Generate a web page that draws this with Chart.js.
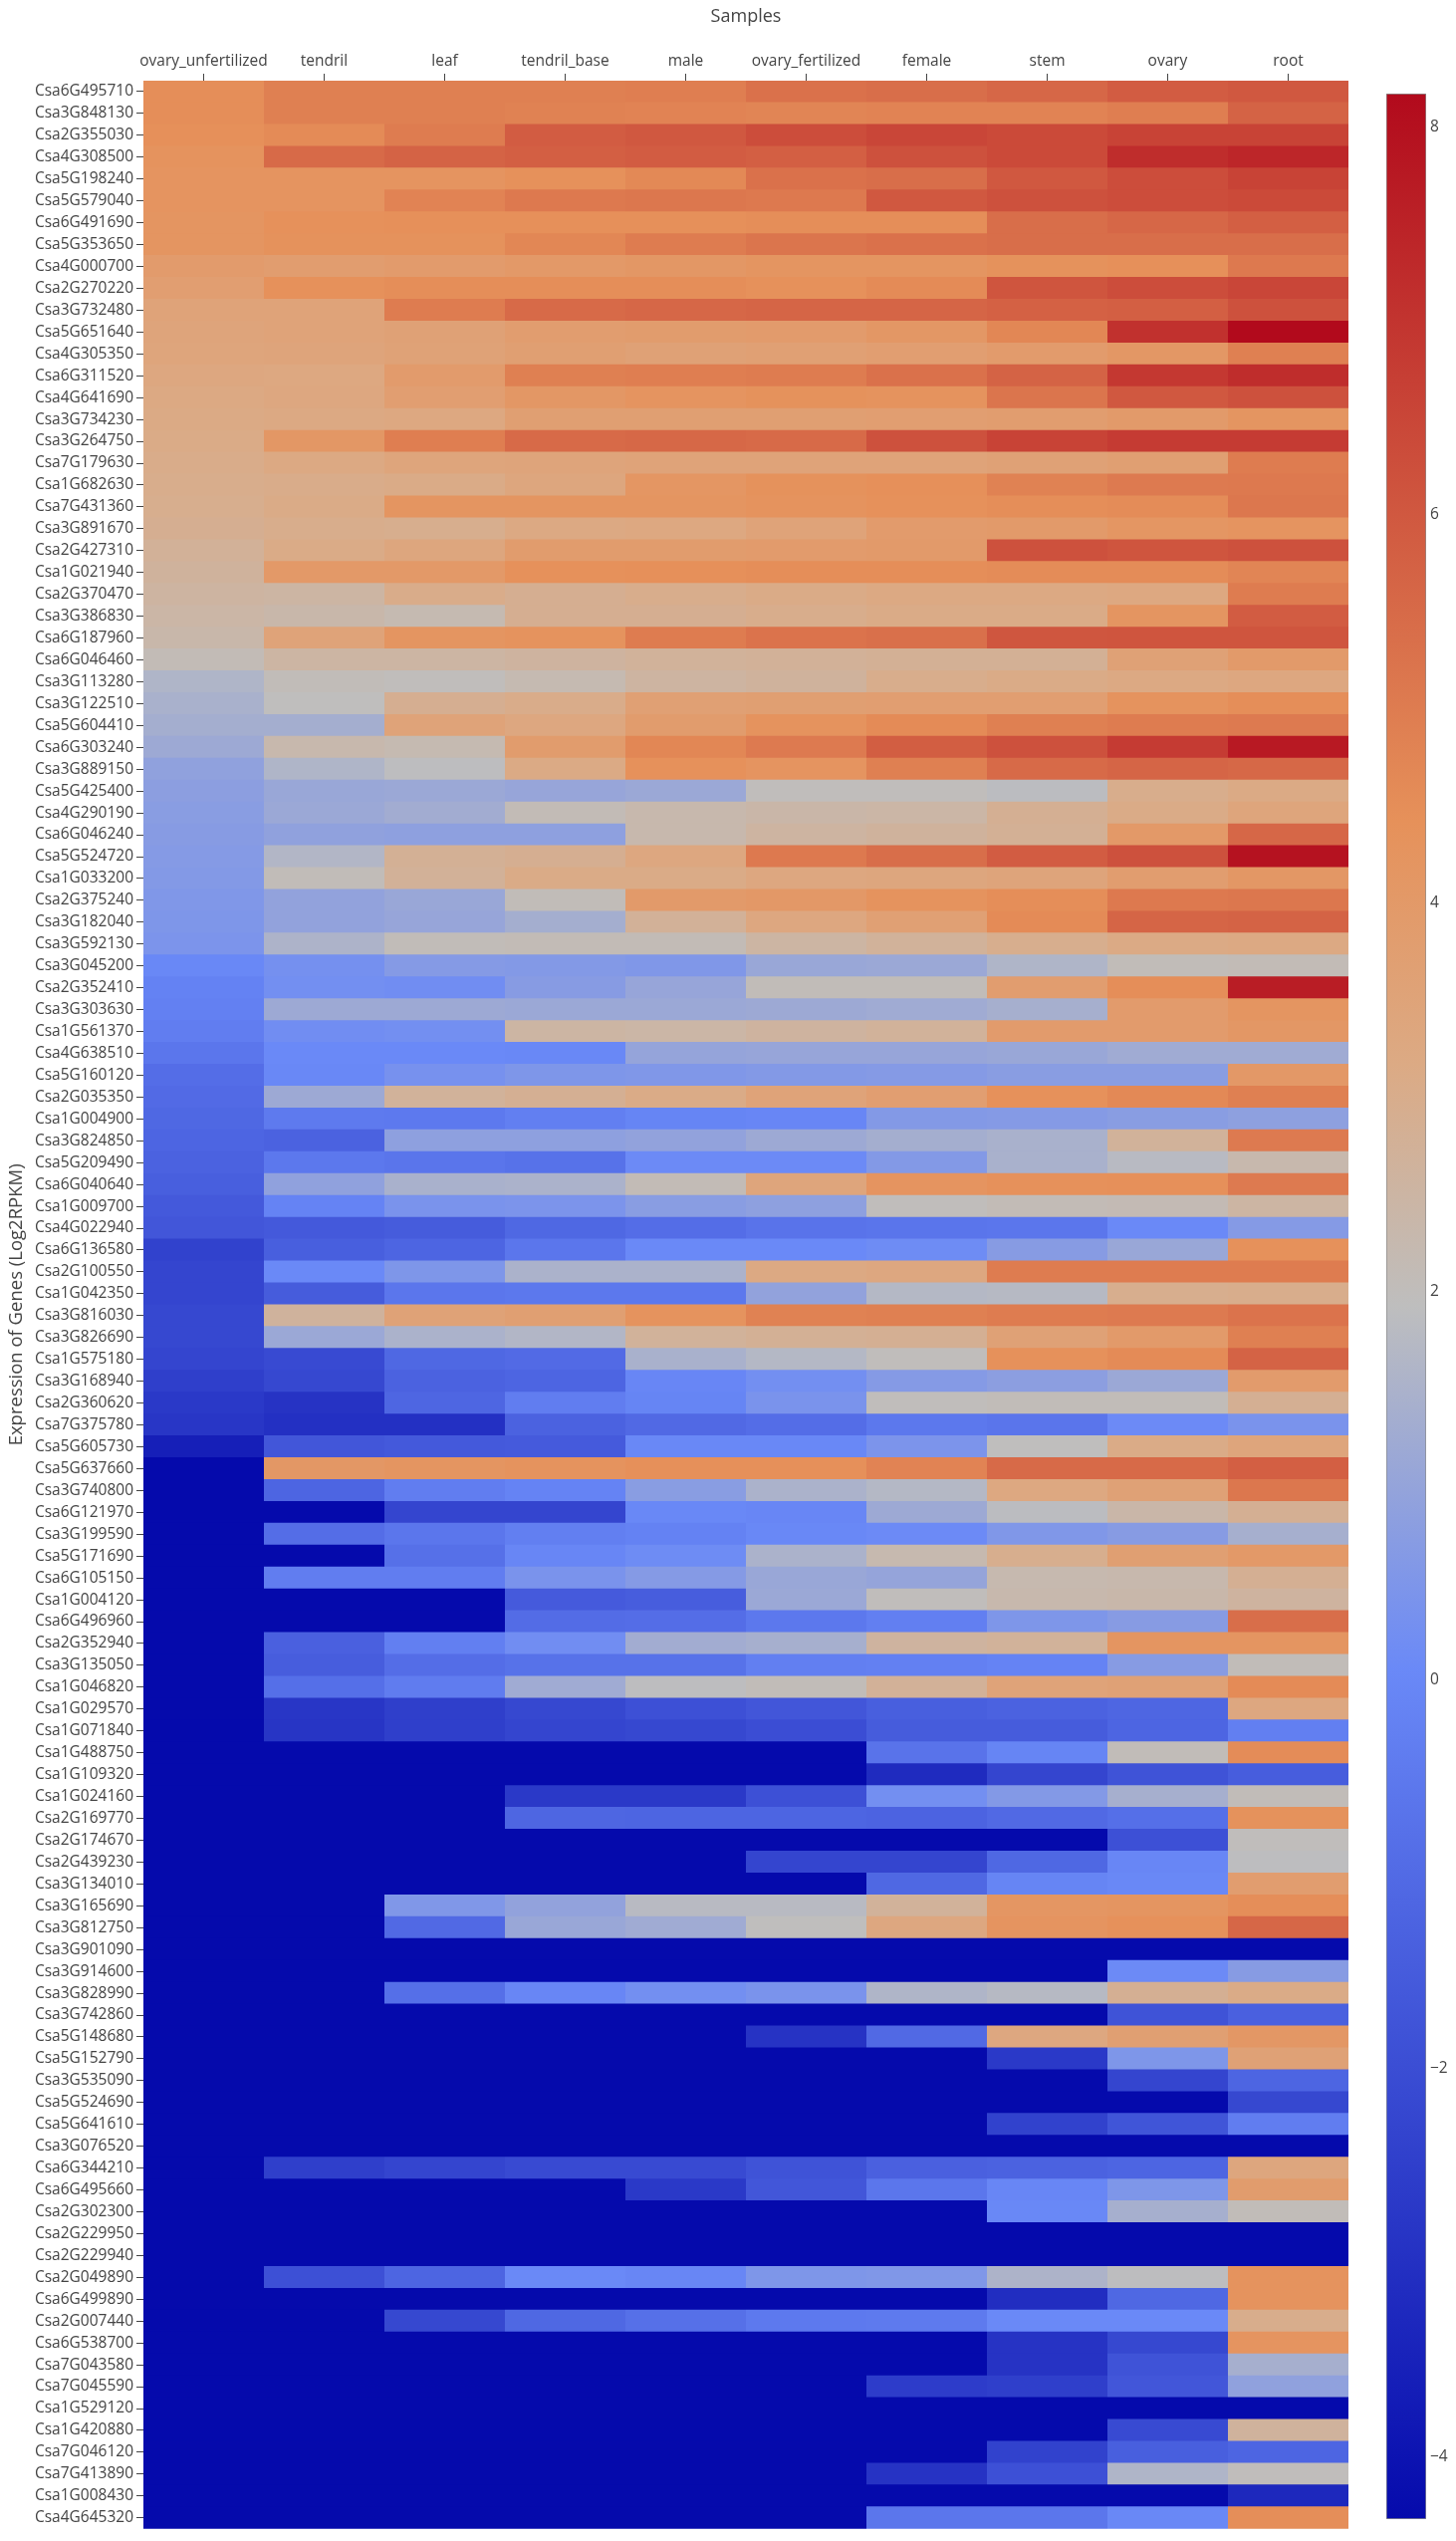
<!DOCTYPE html>
<html>
<head>
<meta charset="utf-8">
<title>Expression heatmap</title>
<script src="https://cdn.jsdelivr.net/npm/chart.js@4"></script>
<style>
    html, body { margin: 0; padding: 0; background: #fff; }
    #wrap { position: relative; width: 1462px; height: 2551px; overflow: hidden; }
    canvas { position: absolute; top: 0; }
    #heat { left: 0; }
    #bar { left: 1380px; }
</style>
</head>
<body>
<div id="wrap">
    <canvas id="heat" width="1462" height="2551"></canvas>
    <canvas id="bar" width="82" height="2551"></canvas>
</div>
<script>
const samples = ["ovary_unfertilized", "tendril", "leaf", "tendril_base", "male", "ovary_fertilized", "female", "stem", "ovary", "root"];

const genes = [
    "Csa6G495710", "Csa3G848130", "Csa2G355030", "Csa4G308500", "Csa5G198240", "Csa5G579040", "Csa6G491690", "Csa5G353650",
    "Csa4G000700", "Csa2G270220", "Csa3G732480", "Csa5G651640", "Csa4G305350", "Csa6G311520", "Csa4G641690", "Csa3G734230",
    "Csa3G264750", "Csa7G179630", "Csa1G682630", "Csa7G431360", "Csa3G891670", "Csa2G427310", "Csa1G021940", "Csa2G370470",
    "Csa3G386830", "Csa6G187960", "Csa6G046460", "Csa3G113280", "Csa3G122510", "Csa5G604410", "Csa6G303240", "Csa3G889150",
    "Csa5G425400", "Csa4G290190", "Csa6G046240", "Csa5G524720", "Csa1G033200", "Csa2G375240", "Csa3G182040", "Csa3G592130",
    "Csa3G045200", "Csa2G352410", "Csa3G303630", "Csa1G561370", "Csa4G638510", "Csa5G160120", "Csa2G035350", "Csa1G004900",
    "Csa3G824850", "Csa5G209490", "Csa6G040640", "Csa1G009700", "Csa4G022940", "Csa6G136580", "Csa2G100550", "Csa1G042350",
    "Csa3G816030", "Csa3G826690", "Csa1G575180", "Csa3G168940", "Csa2G360620", "Csa7G375780", "Csa5G605730", "Csa5G637660",
    "Csa3G740800", "Csa6G121970", "Csa3G199590", "Csa5G171690", "Csa6G105150", "Csa1G004120", "Csa6G496960", "Csa2G352940",
    "Csa3G135050", "Csa1G046820", "Csa1G029570", "Csa1G071840", "Csa1G488750", "Csa1G109320", "Csa1G024160", "Csa2G169770",
    "Csa2G174670", "Csa2G439230", "Csa3G134010", "Csa3G165690", "Csa3G812750", "Csa3G901090", "Csa3G914600", "Csa3G828990",
    "Csa3G742860", "Csa5G148680", "Csa5G152790", "Csa3G535090", "Csa5G524690", "Csa5G641610", "Csa3G076520", "Csa6G344210",
    "Csa6G495660", "Csa2G302300", "Csa2G229950", "Csa2G229940", "Csa2G049890", "Csa6G499890", "Csa2G007440", "Csa6G538700",
    "Csa7G043580", "Csa7G045590", "Csa1G529120", "Csa1G420880", "Csa7G046120", "Csa7G413890", "Csa1G008430", "Csa4G645320"
];

// log2 RPKM, one row per gene, same order as samples
const expression = [
    [4.5, 4.9, 4.9, 4.9, 4.95, 5.3, 5.4, 5.6, 5.9, 6.0],
    [4.5, 4.9, 4.9, 4.85, 4.8, 4.75, 4.8, 4.8, 4.95, 5.7],
    [4.45, 4.6, 5.0, 5.9, 6.0, 6.3, 6.5, 6.4, 6.6, 6.6],
    [4.3, 5.5, 5.7, 5.8, 5.9, 5.8, 6.2, 6.4, 7.2, 7.4],
    [4.25, 4.25, 4.25, 4.4, 4.65, 5.3, 5.4, 6.0, 6.3, 6.6],
    [4.25, 4.25, 4.8, 5.1, 5.15, 5.1, 6.0, 6.2, 6.3, 6.4],
    [4.2, 4.4, 4.45, 4.45, 4.45, 4.5, 4.5, 5.4, 5.6, 5.8],
    [4.2, 4.35, 4.35, 4.7, 5.0, 5.2, 5.3, 5.4, 5.4, 5.4],
    [3.9, 3.8, 3.9, 4.0, 4.1, 4.2, 4.2, 4.35, 4.45, 5.1],
    [3.75, 4.4, 4.5, 4.5, 4.5, 4.4, 4.6, 6.1, 6.3, 6.5],
    [3.5, 3.5, 5.0, 5.5, 5.6, 5.65, 5.65, 5.75, 5.8, 6.2],
    [3.45, 3.5, 3.6, 3.8, 3.85, 3.9, 4.1, 4.7, 7.1, 8.17],
    [3.4, 3.45, 3.55, 3.7, 3.6, 3.65, 3.75, 3.9, 4.1, 4.9],
    [3.3, 3.25, 3.9, 4.9, 4.95, 5.0, 5.3, 5.7, 6.9, 7.2],
    [3.2, 3.3, 3.75, 4.1, 4.25, 4.35, 4.3, 5.2, 6.0, 6.2],
    [3.15, 3.2, 3.25, 3.7, 3.7, 3.7, 3.75, 3.8, 3.95, 4.2],
    [3.1, 4.1, 4.95, 5.5, 5.55, 5.5, 6.2, 6.6, 6.8, 6.8],
    [3.05, 3.2, 3.4, 3.45, 3.5, 3.5, 3.5, 3.6, 3.7, 5.0],
    [3.0, 3.05, 3.1, 3.35, 4.15, 4.35, 4.45, 4.85, 5.05, 5.1],
    [2.95, 3.1, 4.2, 4.2, 4.2, 4.3, 4.4, 4.5, 4.55, 5.15],
    [2.9, 3.0, 2.95, 3.2, 3.25, 3.5, 3.9, 3.95, 4.15, 4.25],
    [2.75, 3.1, 3.35, 3.85, 3.85, 3.9, 3.95, 6.2, 6.1, 6.2],
    [2.65, 4.0, 4.0, 4.4, 4.45, 4.5, 4.5, 4.55, 4.55, 4.75],
    [2.55, 2.5, 3.05, 2.9, 3.0, 3.1, 3.2, 3.2, 3.25, 5.0],
    [2.45, 2.35, 2.2, 2.9, 2.9, 3.0, 3.1, 3.1, 4.2, 5.9],
    [2.35, 3.5, 4.2, 4.3, 5.0, 5.25, 5.35, 6.05, 6.1, 6.1],
    [2.1, 2.5, 2.5, 2.6, 2.7, 2.75, 2.8, 2.8, 3.6, 3.95],
    [1.6, 2.05, 2.0, 2.2, 2.55, 2.65, 3.0, 3.1, 3.2, 3.3],
    [1.45, 1.95, 2.9, 3.05, 3.65, 3.7, 3.75, 3.75, 4.3, 4.5],
    [1.35, 1.35, 3.5, 3.3, 3.85, 4.3, 4.6, 4.9, 5.0, 5.05],
    [1.2, 2.3, 2.2, 3.85, 4.7, 5.05, 5.85, 6.2, 6.8, 7.75],
    [0.9, 1.6, 1.9, 3.15, 4.4, 4.25, 4.9, 5.5, 5.65, 5.55],
    [0.8, 1.1, 1.15, 1.05, 1.15, 2.0, 2.0, 1.85, 3.0, 3.15],
    [0.75, 1.15, 1.3, 2.1, 2.3, 2.4, 2.45, 2.85, 3.1, 3.4],
    [0.7, 0.9, 0.85, 0.85, 2.3, 2.55, 2.65, 2.8, 4.0, 5.6],
    [0.65, 1.65, 2.8, 2.9, 3.3, 5.1, 5.4, 5.9, 6.2, 7.95],
    [0.6, 2.05, 2.75, 3.1, 3.1, 3.3, 3.35, 3.45, 3.8, 4.1],
    [0.55, 0.95, 1.1, 2.05, 3.95, 4.05, 4.3, 4.5, 5.1, 5.15],
    [0.5, 0.95, 1.05, 1.35, 2.75, 3.3, 3.65, 4.6, 5.65, 5.7],
    [0.45, 1.55, 2.05, 2.1, 2.1, 2.5, 2.7, 2.95, 3.15, 3.2],
    [0.0, 0.3, 0.65, 0.6, 0.55, 1.1, 1.15, 1.6, 2.05, 2.1],
    [-0.2, 0.25, 0.2, 0.7, 1.05, 2.05, 2.05, 3.8, 4.5, 7.65],
    [-0.25, 1.2, 1.2, 1.15, 1.15, 1.2, 1.25, 1.4, 3.9, 4.2],
    [-0.35, 0.2, 0.25, 2.5, 2.45, 2.6, 2.7, 3.9, 3.9, 4.1],
    [-0.6, 0.05, 0.05, 0.0, 1.0, 1.05, 1.05, 1.1, 1.25, 1.25],
    [-0.9, 0.0, 0.35, 0.5, 0.55, 0.6, 0.65, 0.75, 0.75, 4.05],
    [-1.0, 1.2, 2.7, 2.85, 3.1, 3.5, 3.75, 4.4, 4.65, 4.9],
    [-1.1, -0.45, -0.5, -0.3, -0.1, -0.05, 0.6, 0.65, 0.75, 0.85],
    [-1.2, -1.3, 0.85, 0.85, 0.95, 1.2, 1.35, 1.45, 2.7, 5.05],
    [-1.3, -0.55, -0.65, -0.75, 0.1, 0.1, 0.6, 1.45, 1.8, 2.3],
    [-1.4, 0.9, 1.45, 1.5, 2.1, 3.4, 4.25, 4.4, 4.45, 5.05],
    [-1.6, -0.15, 0.4, 0.45, 0.75, 0.85, 2.0, 2.1, 2.15, 2.5],
    [-1.7, -1.6, -1.5, -1.1, -0.9, -0.7, -0.65, -0.6, 0.05, 0.65],
    [-2.4, -1.4, -1.2, -0.6, 0.05, 0.05, 0.15, 0.7, 1.1, 4.4],
    [-2.3, 0.05, 0.5, 1.5, 1.5, 3.2, 3.3, 5.0, 5.0, 5.0],
    [-2.3, -1.5, -0.6, -0.55, -0.55, 0.95, 1.7, 1.75, 2.95, 3.0],
    [-2.2, 2.65, 3.55, 3.7, 4.3, 4.85, 4.9, 5.0, 5.05, 5.25],
    [-2.2, 1.15, 1.5, 1.65, 2.7, 2.8, 2.85, 3.6, 3.95, 4.9],
    [-2.3, -2.1, -1.1, -1.0, 1.45, 1.7, 2.0, 4.4, 4.6, 5.7],
    [-2.5, -2.2, -1.3, -1.2, -0.05, 0.25, 0.65, 0.8, 1.15, 3.9],
    [-2.7, -2.9, -1.15, -0.35, -0.1, 0.4, 2.0, 2.05, 2.05, 2.85],
    [-2.8, -3.0, -3.0, -1.3, -1.05, -0.9, -0.55, -0.65, 0.1, 0.4],
    [-3.6, -1.7, -1.6, -1.55, 0.0, 0.0, 0.45, 1.95, 3.1, 3.4],
    [-4.32, 4.1, 4.2, 4.3, 4.45, 4.45, 4.8, 5.5, 5.5, 5.8],
    [-4.32, -1.2, -0.35, -0.15, 0.75, 1.5, 1.7, 3.25, 3.6, 5.15],
    [-4.32, -4.32, -2.3, -2.3, 0.0, -0.05, 1.2, 1.85, 2.4, 2.85],
    [-4.32, -0.9, -0.6, -0.3, -0.2, 0.0, 0.1, 0.55, 0.7, 1.4],
    [-4.32, -4.32, -0.8, -0.05, 0.15, 1.5, 2.25, 2.95, 3.7, 4.0],
    [-4.32, -0.35, -0.35, 0.4, 0.65, 1.1, 1.0, 2.25, 2.3, 2.85],
    [-4.32, -4.32, -4.32, -1.55, -1.45, 1.15, 2.0, 2.3, 2.35, 2.6],
    [-4.32, -4.32, -4.32, -0.95, -0.9, -0.55, -0.3, 0.5, 0.7, 5.4],
    [-4.32, -1.35, -0.3, 0.2, 1.3, 1.4, 2.6, 2.7, 4.2, 4.2],
    [-4.32, -1.45, -0.9, -0.75, -0.75, -0.3, -0.25, -0.15, 0.7, 2.05],
    [-4.32, -0.85, -0.4, 1.25, 1.9, 2.05, 2.75, 3.5, 3.6, 4.6],
    [-4.32, -2.8, -2.5, -2.2, -1.9, -1.7, -1.4, -1.3, -1.15, 3.3],
    [-4.32, -2.85, -2.5, -2.3, -2.2, -2.0, -1.5, -1.5, -1.2, -0.3],
    [-4.32, -4.32, -4.32, -4.32, -4.32, -4.32, -0.7, -0.1, 2.05, 4.55],
    [-4.32, -4.32, -4.32, -4.32, -4.32, -4.32, -3.2, -2.3, -1.8, -1.45],
    [-4.32, -4.32, -4.32, -2.7, -2.7, -1.9, 0.25, 0.6, 1.4, 2.05],
    [-4.32, -4.32, -4.32, -1.15, -1.2, -1.2, -1.25, -1.05, -0.85, 4.35],
    [-4.32, -4.32, -4.32, -4.32, -4.32, -4.32, -4.32, -4.32, -1.9, 2.0],
    [-4.32, -4.32, -4.32, -4.32, -4.32, -2.3, -2.3, -1.1, -0.05, 1.9],
    [-4.32, -4.32, -4.32, -4.32, -4.32, -4.32, -1.1, -0.1, 0.0, 3.8],
    [-4.32, -4.32, 0.55, 0.95, 1.8, 1.8, 2.7, 4.15, 4.2, 4.5],
    [-4.32, -4.32, -1.05, 1.1, 1.25, 1.95, 3.3, 4.25, 4.4, 5.6],
    [-4.32, -4.32, -4.32, -4.32, -4.32, -4.32, -4.32, -4.32, -4.32, -4.32],
    [-4.32, -4.32, -4.32, -4.32, -4.32, -4.32, -4.32, -4.32, 0.1, 0.7],
    [-4.32, -4.32, -0.85, -0.05, 0.25, 0.4, 1.6, 1.75, 2.85, 3.1],
    [-4.32, -4.32, -4.32, -4.32, -4.32, -4.32, -4.32, -4.32, -1.8, -1.35],
    [-4.32, -4.32, -4.32, -4.32, -4.32, -2.9, -1.05, 3.3, 3.7, 4.1],
    [-4.32, -4.32, -4.32, -4.32, -4.32, -4.32, -4.32, -2.7, 0.5, 3.6],
    [-4.32, -4.32, -4.32, -4.32, -4.32, -4.32, -4.32, -4.32, -2.3, -1.2],
    [-4.32, -4.32, -4.32, -4.32, -4.32, -4.32, -4.32, -4.32, -4.32, -2.2],
    [-4.32, -4.32, -4.32, -4.32, -4.32, -4.32, -4.32, -2.4, -1.75, -0.35],
    [-4.32, -4.32, -4.32, -4.32, -4.32, -4.32, -4.32, -4.32, -4.32, -4.32],
    [-4.32, -2.5, -2.3, -2.1, -2.1, -1.8, -1.35, -1.3, -1.2, 3.35],
    [-4.32, -4.32, -4.32, -4.32, -2.7, -1.7, -0.6, -0.05, 0.5, 3.85],
    [-4.32, -4.32, -4.32, -4.32, -4.32, -4.32, -4.32, 0.0, 1.4, 2.05],
    [-4.32, -4.32, -4.32, -4.32, -4.32, -4.32, -4.32, -4.32, -4.32, -4.32],
    [-4.32, -4.32, -4.32, -4.32, -4.32, -4.32, -4.32, -4.32, -4.32, -4.32],
    [-4.32, -1.9, -1.2, 0.05, -0.05, 0.5, 0.55, 1.55, 1.9, 4.3],
    [-4.32, -4.32, -4.32, -4.32, -4.32, -4.32, -4.32, -3.1, -1.1, 4.3],
    [-4.32, -4.32, -2.2, -1.1, -0.8, -0.5, -0.45, 0.05, 0.05, 3.0],
    [-4.32, -4.32, -4.32, -4.32, -4.32, -4.32, -4.32, -2.9, -2.2, 4.25],
    [-4.32, -4.32, -4.32, -4.32, -4.32, -4.32, -4.32, -2.9, -1.8, 1.4],
    [-4.32, -4.32, -4.32, -4.32, -4.32, -4.32, -2.6, -2.5, -1.7, 0.9],
    [-4.32, -4.32, -4.32, -4.32, -4.32, -4.32, -4.32, -4.32, -4.32, -4.32],
    [-4.32, -4.32, -4.32, -4.32, -4.32, -4.32, -4.32, -4.32, -2.1, 2.65],
    [-4.32, -4.32, -4.32, -4.32, -4.32, -4.32, -4.32, -2.4, -1.4, -1.2],
    [-4.32, -4.32, -4.32, -4.32, -4.32, -4.32, -2.9, -1.9, 1.6, 2.0],
    [-4.32, -4.32, -4.32, -4.32, -4.32, -4.32, -4.32, -4.32, -4.32, -3.3],
    [-4.32, -4.32, -4.32, -4.32, -4.32, -4.32, -0.6, -0.6, 0.0, 4.5]
];

const colorTicks = [-4, -2, 0, 2, 4, 6, 8];
const zMin = -4.32;
const zMax = 8.17;

// colorscale stops
const stopPositions = [0, 0.35, 0.5, 0.6, 0.7, 1];
const stopColors = [[5, 10, 172], [106, 137, 247], [190, 190, 190], [220, 170, 132], [230, 145, 90], [178, 10, 28]];

function colorFor(v) {
    const t = Math.min(1, Math.max(0, (v - zMin) / (zMax - zMin)));
    let i = 0;
    while (i < stopPositions.length - 2 && t > stopPositions[i + 1]) i++;
    const f = (t - stopPositions[i]) / (stopPositions[i + 1] - stopPositions[i]);
    const c = stopColors[i].map((a, k) => Math.round(a + (stopColors[i + 1][k] - a) * f));
    return `rgb(${c[0]},${c[1]},${c[2]})`;
}

Chart.defaults.font.family = '"Open Sans", sans-serif';
Chart.defaults.color = "#444";
Chart.defaults.animation = false;

// one floating bar per cell, ten datasets laid over the same gene rows
new Chart(document.getElementById("heat"), {
    type: "bar",
    data: {
        labels: genes,
        datasets: samples.map((s, col) => ({
            label: s,
            data: genes.map(() => [col, col + 1]),
            backgroundColor: expression.map(row => colorFor(row[col])),
            borderWidth: 0,
            grouped: false,
            categoryPercentage: 1,
            barPercentage: 1.04
        }))
    },
    options: {
        indexAxis: "y",
        responsive: false,
        devicePixelRatio: 1,
        layout: { padding: { top: 0, left: 0, right: 108, bottom: 10 } },
        plugins: { legend: { display: false }, tooltip: { enabled: false } },
        scales: {
            x: {
                type: "linear",
                position: "top",
                min: 0,
                max: samples.length,
                afterBuildTicks: scale => {
                    scale.ticks = samples.map((s, i) => ({ value: i + 0.5 }));
                },
                afterFit: scale => { scale.height = 81; },
                grid: { drawOnChartArea: false, tickLength: 7, tickColor: "#444", tickWidth: 1 },
                border: { display: false },
                ticks: {
                    autoSkip: false,
                    maxRotation: 0,
                    padding: 3,
                    font: { size: 15.5 },
                    callback: v => samples[v - 0.5]
                },
                title: { display: true, text: "Samples", font: { size: 18 }, padding: { top: 6, bottom: 6 } }
            },
            y: {
                type: "category",
                afterFit: scale => { scale.width = 144; },
                grid: { offset: false, drawOnChartArea: false, tickLength: 7, tickColor: "#444", tickWidth: 1 },
                border: { display: false },
                ticks: { autoSkip: false, padding: 3, font: { size: 15.5 } },
                title: { display: true, text: "Expression of Genes (Log2RPKM)", font: { size: 18.5 }, padding: { top: 6, bottom: 0 } }
            }
        }
    }
});

// colour bar on its own linear axis
new Chart(document.getElementById("bar"), {
    type: "bar",
    data: {
        labels: [""],
        datasets: [{
            data: [[zMin, zMax]],
            backgroundColor: ctx => {
                const area = ctx.chart.chartArea;
                if (!area) return "#fff";
                const g = ctx.chart.ctx.createLinearGradient(0, area.bottom, 0, area.top);
                stopPositions.forEach((p, i) => g.addColorStop(p, `rgb(${stopColors[i].join(",")})`));
                return g;
            },
            borderColor: "#8a8a8a",
            borderWidth: 1,
            borderSkipped: false,
            categoryPercentage: 1,
            barPercentage: 1
        }]
    },
    options: {
        responsive: false,
        devicePixelRatio: 1,
        layout: { padding: { top: 94, left: 12, right: 0, bottom: 22 } },
        plugins: { legend: { display: false }, tooltip: { enabled: false } },
        scales: {
            x: { display: false },
            y: {
                position: "right",
                min: zMin,
                max: zMax,
                afterBuildTicks: scale => {
                    scale.ticks = colorTicks.map(v => ({ value: v }));
                },
                afterFit: scale => { scale.width = 30; },
                grid: { display: false, drawTicks: false },
                border: { display: false },
                ticks: {
                    padding: 4,
                    font: { size: 15.5 },
                    callback: v => (v < 0 ? "\u2212" + Math.abs(v) : String(v))
                }
            }
        }
    }
});
</script>
</body>
</html>
